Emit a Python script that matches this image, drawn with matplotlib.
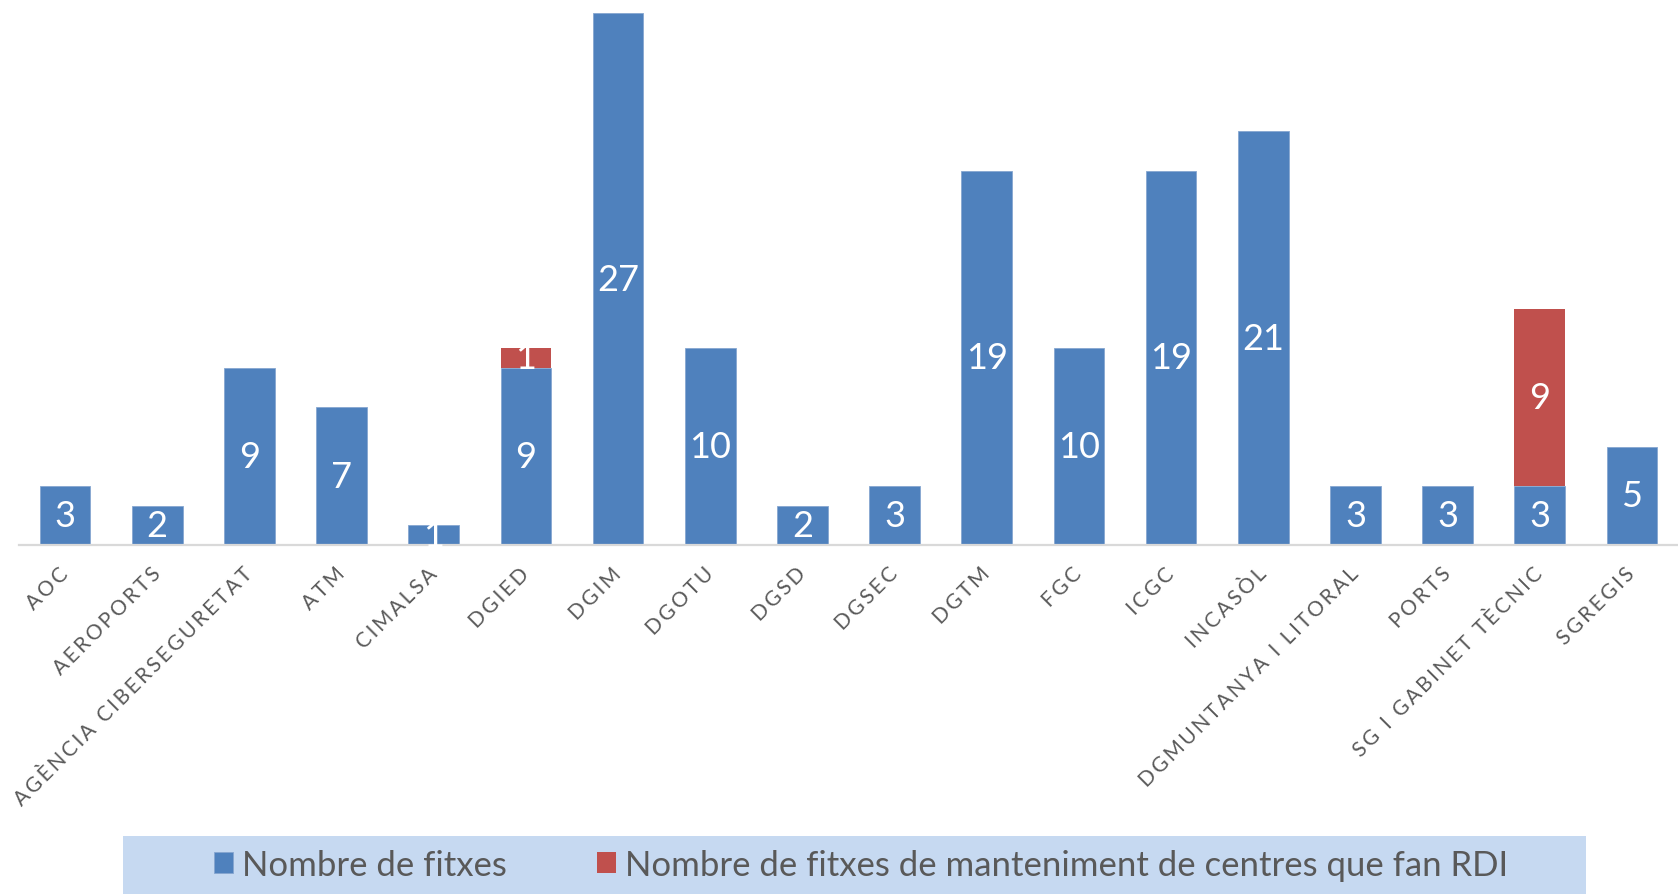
import matplotlib.pyplot as plt
from matplotlib.patches import Rectangle

categories = ['AOC', 'AEROPORTS', 'AGÈNCIA CIBERSEGURETAT', 'ATM', 'CIMALSA', 'DGIED',
              'DGIM', 'DGOTU', 'DGSD', 'DGSEC', 'DGTM', 'FGC', 'ICGC', 'INCASÒL',
              'DGMUNTANYA I LITORAL', 'PORTS', 'SG I GABINET TÈCNIC', 'SGREGIS']
fitxes = [3, 2, 9, 7, 1, 9, 27, 10, 2, 3, 19, 10, 19, 21, 3, 3, 3, 5]
fitxes_rdi = [0, 0, 0, 0, 0, 1, 0, 0, 0, 0, 0, 0, 0, 0, 0, 0, 9, 0]

BLUE = '#4f81bd'
RED = '#c0504d'
GREY = '#595959'

plt.rcParams['font.family'] = ['Lato', 'DejaVu Sans']


def spaced(s):
    # mimic the wide letter spacing of the category labels
    return '\u2009'.join(s)


W, H = 1678, 895
fig = plt.figure(figsize=(W / 100, H / 100), dpi=100)
# axes: x from 19px to right edge, baseline at 546px from top
ax = fig.add_axes([19 / W, (H - 546) / H, (W - 19) / W, 546 / H])

x = range(len(categories))
width = 0.55
b1 = ax.bar(x, fitxes, width, color=BLUE, edgecolor='#86a6d0', linewidth=0.6,
            label='Nombre de fitxes')
b2 = ax.bar(x, fitxes_rdi, width, bottom=fitxes, color=RED, linewidth=0,
            label='Nombre de fitxes de manteniment de centres que fan RDI')

ax.bar_label(b1, labels=[str(v) if v else '' for v in fitxes], label_type='center',
             color='white', fontsize=26)
ax.bar_label(b2, labels=[str(v) if v else '' for v in fitxes_rdi], label_type='center',
             color='white', fontsize=26)

ax.set_xlim(-0.5, len(categories) - 0.5)
ax.set_ylim(0, 546 / 19.7)
ax.set_yticks([])
ax.set_xticks(list(x))
ax.set_xticklabels([spaced(c) for c in categories], rotation=45, ha='right', va='center',
                   rotation_mode='anchor', fontsize=15, color=GREY)
ax.tick_params(axis='x', length=0, pad=18)
for s in ['top', 'right', 'left']:
    ax.spines[s].set_visible(False)
ax.spines['bottom'].set_color('#d9d9d9')
ax.spines['bottom'].set_linewidth(1.6)

# legend background band
fig.add_artist(Rectangle((123 / W, 0), (1586 - 123) / W, 58 / H,
                         transform=fig.transFigure, facecolor='#c6d9f1',
                         edgecolor='none', zorder=0))
fig.legend(handles=[b1, b2], loc='center', bbox_to_anchor=(861 / W, 29 / H),
           ncol=2, frameon=False, fontsize=25, labelcolor=GREY,
           handlelength=0.55, handleheight=0.55, handletextpad=0.25,
           columnspacing=2.6, borderpad=0)

fig.savefig('out.png', dpi=100)
